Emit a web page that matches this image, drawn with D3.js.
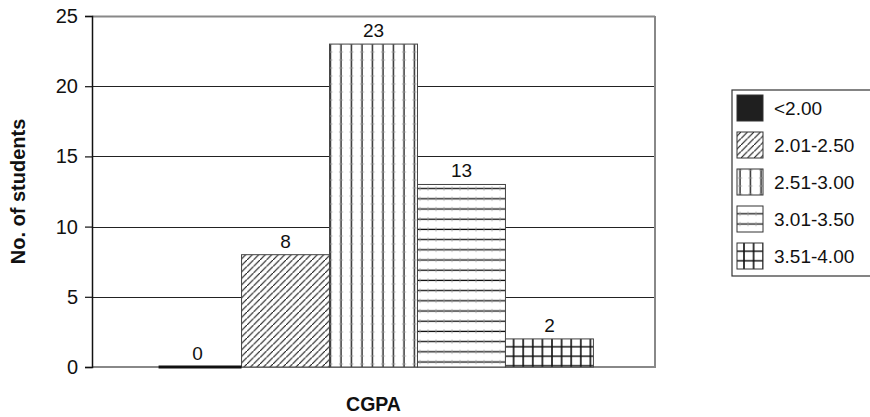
<!DOCTYPE html>
<html>
<head>
<meta charset="utf-8">
<script src="https://cdn.jsdelivr.net/npm/d3@7"></script>
<style>
  html, body { margin: 0; padding: 0; background: #fff; }
  text { font-family: "Liberation Sans", Arial, sans-serif; }
</style>
</head>
<body>
<svg id="chart" width="870" height="417"></svg>
<script>
// CGPA distribution of students
const groups = ["CGPA"];
const ranges = ["<2.00", "2.01-2.50", "2.51-3.00", "3.01-3.50", "3.51-4.00"];
const counts = [0, 8, 23, 13, 2];
const yTicks = [0, 5, 10, 15, 20, 25];
const fills = ["url(#solid)", "url(#diag)", "url(#vert)", "url(#horiz)", "url(#grid)"];

const svg = d3.select("#chart");
const margin = { left: 92, right: 215, top: 16, bottom: 50 };
const W = 870, H = 417;
const x0 = W - margin.right;

// hatch patterns
const defs = svg.append("defs");
const pat = (id, w, h) => defs.append("pattern").attr("id", id)
  .attr("patternUnits", "userSpaceOnUse").attr("width", w).attr("height", h);

pat("solid", 4, 4).append("rect").attr("width", 4).attr("height", 4).attr("fill", "#1f1f1f");

const pd = pat("diag", 6.5, 6.5);
pd.append("rect").attr("width", 6.5).attr("height", 6.5).attr("fill", "#fff");
pd.append("path").attr("d", "M-1,7.5 L7.5,-1 M-4,3.25 L3.25,-4 M3.25,10.5 L10.5,3.25")
  .attr("stroke", "#111").attr("stroke-width", 1.1);

const pv = pat("vert", 10.5, 8);
pv.append("rect").attr("width", 10.5).attr("height", 8).attr("fill", "#fff");
pv.append("line").attr("x1", 5).attr("x2", 5).attr("y1", 0).attr("y2", 8)
  .attr("stroke", "#111").attr("stroke-width", 1.3);
pv.append("line").attr("x1", 3).attr("x2", 7).attr("y1", 4).attr("y2", 4)
  .attr("stroke", "#999").attr("stroke-width", 0.8);

const ph = pat("horiz", 8, 10.2);
ph.append("rect").attr("width", 8).attr("height", 10.2).attr("fill", "#fff");
ph.append("line").attr("x1", 0).attr("x2", 8).attr("y1", 5).attr("y2", 5)
  .attr("stroke", "#111").attr("stroke-width", 1.3);
ph.append("line").attr("x1", 4).attr("x2", 4).attr("y1", 3).attr("y2", 7)
  .attr("stroke", "#999").attr("stroke-width", 0.8);

const pg = pat("grid", 9.6, 9.5);
pg.append("rect").attr("width", 9.6).attr("height", 9.5).attr("fill", "#fff");
pg.append("path").attr("d", "M4.8,0 V9.5 M0,4.75 H9.6")
  .attr("stroke", "#111").attr("stroke-width", 1.6);

// scales
const x = d3.scaleBand().domain(groups).range([margin.left, x0]).paddingInner(0).paddingOuter(0.14);
const xs = d3.scaleBand().domain(ranges).range([0, x.bandwidth()]).padding(0);
const y = d3.scaleLinear().domain([0, 25]).range([H - margin.bottom, margin.top]);

// gridlines
svg.append("g").selectAll("line").data(yTicks.filter(d => d > 0)).join("line")
  .attr("x1", margin.left).attr("x2", x0)
  .attr("y1", d => Math.round(y(d)) + 0.5).attr("y2", d => Math.round(y(d)) + 0.5)
  .attr("stroke", d => d === 25 ? "#888" : "#222").attr("stroke-width", d => d === 25 ? 2 : 1.1);

// plot frame (right and bottom)
svg.append("path")
  .attr("d", `M${x0},${y(25)} V${y(0)} H${margin.left}`)
  .attr("fill", "none").attr("stroke", "#888").attr("stroke-width", 2);

// bars
const bars = svg.append("g");
groups.forEach(g => {
  bars.selectAll("rect.bar").data(counts).join("rect").attr("class", "bar")
    .attr("x", (d, i) => x(g) + xs(ranges[i]))
    .attr("width", xs.bandwidth())
    .attr("y", d => y(d))
    .attr("height", d => y(0) - y(d))
    .attr("fill", (d, i) => fills[i])
    .attr("stroke", "#444").attr("stroke-width", 1);
  // zero-height bar shown as a line on the baseline
  bars.selectAll("line.zero").data(counts.map((d, i) => ({ d, i })).filter(o => o.d === 0)).join("line")
    .attr("class", "zero")
    .attr("x1", o => x(g) + xs(ranges[o.i]) + 5).attr("x2", o => x(g) + xs(ranges[o.i]) + xs.bandwidth())
    .attr("y1", y(0)).attr("y2", y(0)).attr("stroke", "#111").attr("stroke-width", 3);
  bars.selectAll("text.val").data(counts).join("text").attr("class", "val")
    .attr("x", (d, i) => x(g) + xs(ranges[i]) + xs.bandwidth() / 2)
    .attr("y", d => y(d) - 7)
    .attr("text-anchor", "middle").attr("font-size", 19).attr("fill", "#111")
    .text(d => d);
});

// y axis
const yAxis = svg.append("g").attr("transform", `translate(${margin.left},0)`)
  .call(d3.axisLeft(y).tickValues(yTicks).tickSize(7).tickPadding(7));
yAxis.select(".domain").attr("stroke", "#111").attr("stroke-width", 1.5);
yAxis.selectAll(".tick line").attr("stroke", "#111").attr("stroke-width", 1.2);
yAxis.selectAll(".tick text").attr("font-size", 20).attr("fill", "#111")
  .attr("font-family", "Liberation Sans, Arial, sans-serif");

// axis titles
svg.append("text")
  .attr("transform", `translate(25,${(y(0) + y(25)) / 2}) rotate(-90)`)
  .attr("text-anchor", "middle").attr("font-size", 20).attr("font-weight", "bold").attr("fill", "#111")
  .text("No. of students");
svg.append("text")
  .attr("x", (margin.left + x0) / 2).attr("y", 411)
  .attr("text-anchor", "middle").attr("font-size", 19.5).attr("font-weight", "bold").attr("fill", "#111")
  .text("CGPA");

// legend
const lg = svg.append("g");
lg.append("rect").attr("x", 732).attr("y", 90).attr("width", 140).attr("height", 186)
  .attr("fill", "#fff").attr("stroke", "#333").attr("stroke-width", 1.2);
const rowY = d3.scalePoint().domain(ranges).range([108, 256]);
const item = lg.selectAll("g.item").data(ranges).join("g").attr("class", "item")
  .attr("transform", d => `translate(0,${rowY(d)})`);
item.append("rect").attr("x", 737).attr("y", -13).attr("width", 26).attr("height", 26)
  .attr("fill", (d, i) => fills[i]).attr("stroke", "#333").attr("stroke-width", 1);
item.append("text").attr("x", 774).attr("y", 0).attr("dy", "0.35em")
  .attr("font-size", 19).attr("fill", "#111").text(d => d);
</script>
</body>
</html>
